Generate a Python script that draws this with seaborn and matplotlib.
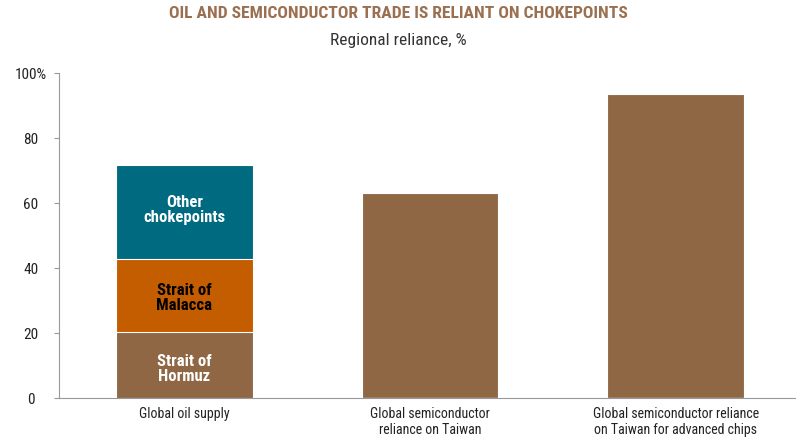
import pandas as pd
import seaborn as sns
import matplotlib
matplotlib.use('Agg')
import matplotlib.pyplot as plt
from matplotlib import font_manager

categories = ['Global oil supply',
              'Global semiconductor\nreliance on Taiwan',
              'Global semiconductor reliance\non Taiwan for advanced chips']
hormuz = [20.3, 0, 0]
malacca = [22.5, 0, 0]
other = [28.9, 0, 0]
single = [0, 63.2, 93.6]
tick_labels = ['0', '20', '40', '60', '80', '100%']

brown = '#8f6745'
orange = '#c45c00'
teal = '#006a80'

sns.set_style('ticks')
names = {f.name for f in font_manager.fontManager.ttflist}
cands = ['Liberation Sans Narrow', 'Roboto Condensed', 'Open Sans Condensed', 'Roboto']
narrow = [c for c in cands if c in names][0]
plt.rcParams['font.family'] = [narrow, 'DejaVu Sans']

df = pd.DataFrame({'category': categories, 'hormuz': hormuz, 'malacca': malacca,
                   'other': other, 'single': single})
df['h_m'] = df['hormuz'] + df['malacca']
df['total'] = df['h_m'] + df['other'] + df['single']

fig = plt.figure(figsize=(7.96, 4.37), dpi=100)
ax = fig.add_axes([0.0741, 0.0886, 0.9259, 0.7437])

# tallest first so the stacked pieces end up on top
w = 0.557
kw = dict(width=w, ax=ax, edgecolor='white', linewidth=0.8, saturation=1)
sns.barplot(data=df, x='category', y='total', color=teal, **kw)
sns.barplot(data=df, x='category', y='h_m', color=orange, **kw)
sns.barplot(data=df, x='category', y='hormuz', color=brown, **kw)
for p in ax.patches[:3]:
    if p.get_x() > 0.3:
        p.set_facecolor(brown)

ax.text(0, 9, 'Strait of\nHormuz', ha='center', va='center', color='white',
        fontsize=12, fontweight='bold', linespacing=1.0)
ax.text(0, 31, 'Strait of\nMalacca', ha='center', va='center', color='black',
        fontsize=12, fontweight='bold', linespacing=1.0)
ax.text(0, 58, 'Other\nchokepoints', ha='center', va='center', color='white',
        fontsize=12, fontweight='bold', linespacing=1.0)

ax.set_xlim(-0.51, 2.49)
ax.set_ylim(0, 100)
ax.set_yticks([0, 20, 40, 60, 80, 100])
ax.set_yticklabels(tick_labels, fontsize=11, color='#222222', ha='center')
ax.set_xlabel('')
ax.set_ylabel('')
ax.tick_params(axis='x', length=0, labelsize=10, pad=6, colors='#222222')
ax.tick_params(axis='y', length=3.6, width=0.8, color='#999999', pad=16.6)
sns.despine(ax=ax, top=True, right=True)
ax.spines['left'].set_color('#999999')
ax.spines['bottom'].set_color('#999999')

fig.text(0.5, 0.968, 'OIL AND SEMICONDUCTOR TRADE IS RELIANT ON CHOKEPOINTS',
         ha='center', va='center', fontsize=12.6, fontweight='bold', color='#9a7050')
fig.text(0.5, 0.908, 'Regional reliance, %', ha='center', va='center',
         fontsize=12.5, color='#333333')

fig.savefig('out.png', dpi=100)
